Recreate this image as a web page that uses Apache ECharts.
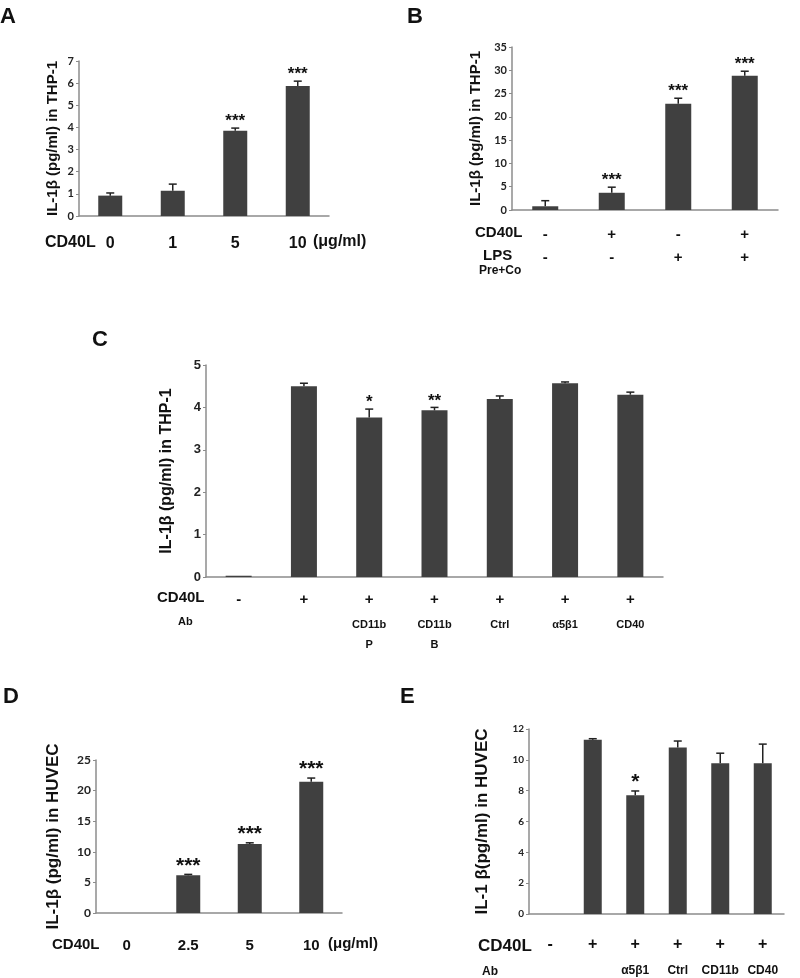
<!DOCTYPE html>
<html><head><meta charset="utf-8">
<script src="https://cdn.jsdelivr.net/npm/echarts@6/dist/echarts.min.js"></script>
<style>html,body{margin:0;padding:0;background:#fff}#c{width:800px;height:978px}</style>
</head><body><div id="c"></div>
<script>
// ---- Panel A ----
const catsA = ['0', '1', '5', '10'];
const valsA = [0.92, 1.14, 3.85, 5.87];
const errA = [0.12, 0.3, 0.12, 0.22];
const starsA = ['', '', '***', '***'];
// ---- Panel B ----
const rowCD40LB = ['-', '+', '-', '+'];
const rowLPSB = ['-', '-', '+', '+'];
const valsB = [0.8, 3.7, 22.8, 28.8];
const errB = [1.2, 1.2, 1.2, 1.0];
const starsB = ['', '***', '***', '***'];
// ---- Panel C ----
const rowCD40LC = ['-', '+', '+', '+', '+', '+', '+'];
const rowAbC = ['', '', 'CD11b\nP', 'CD11b\nB', 'Ctrl', 'α5β1', 'CD40'];
const valsC = [0.03, 4.5, 3.76, 3.93, 4.2, 4.57, 4.3];
const errC = [0, 0.07, 0.2, 0.07, 0.07, 0.03, 0.06];
const starsC = ['', '', '*', '**', '', '', ''];
// ---- Panel D ----
const catsD = ['0', '2.5', '5', '10'];
const valsD = [0, 6.16, 11.27, 21.45];
const errD = [0, 0.15, 0.2, 0.6];
const starsD = ['', '***', '***', '***'];
// ---- Panel E ----
const rowCD40LE = ['-', '+', '+', '+', '+', '+'];
const rowAbE = ['', '', 'α5β1', 'Ctrl', 'CD11b', 'CD40'];
const valsE = [0, 11.3, 7.7, 10.8, 9.78, 9.78];
const errE = [0, 0.07, 0.28, 0.42, 0.65, 1.24];
const starsE = ['', '', '*', '', '', ''];

const AX = '#8c8c8c', BAR = '#404040', F = '"Liberation Sans", Arial, sans-serif', FC = 'Lato, "Liberation Sans", sans-serif';

const panels = [
  {grid:{left:79, top:61, width:250, height:155}, rows:[{d:catsA, m:19, fs:16}], vals:valsA, err:errA, stars:starsA,
   y:{max:7, interval:1, fs:11, ff:FC}, name:'IL-1β (pg/ml) in THP-1', nameFs:15, gap:19, bw:24, sfs:17},
  {grid:{left:512, top:47, width:266, height:163}, rows:[{d:rowCD40LB, m:16, fs:15},{d:rowLPSB, m:39, fs:15}], vals:valsB, err:errB, stars:starsB,
   y:{max:35, interval:5, fs:11, ff:FC}, name:'IL-1β (pg/ml) in THP-1', nameFs:15, gap:29, bw:26, sfs:17},
  {grid:{left:206, top:365, width:457, height:212}, rows:[{d:rowCD40LC, m:14, fs:15},{d:rowAbC, m:38, fs:11, lh:20}], vals:valsC, err:errC, stars:starsC,
   y:{max:5, interval:1, fs:13, ff:F}, name:'IL-1β (pg/ml) in THP-1', nameFs:16, gap:31, bw:26, sfs:17},
  {grid:{left:96, top:760, width:246, height:153}, rows:[{d:catsD, m:24, fs:15}], vals:valsD, err:errD, stars:starsD,
   y:{max:25, interval:5, fs:12, ff:FC}, name:'IL-1β (pg/ml) in HUVEC', nameFs:17, gap:34, bw:24, sfs:21},
  {grid:{left:529, top:729, width:255, height:188}, rows:[{d:rowCD40LE, m:22, fs:16},{d:rowAbE, m:50, fs:12}], vals:valsE, err:errE, stars:starsE,
   y:{max:12, interval:2, fs:10, ff:FC}, name:'IL-1 β(pg/ml) in HUVEC', nameFs:17, gap:38, bw:18, sfs:21}
];

const grid = [], xAxis = [], yAxis = [], series = [];
panels.forEach((p, i) => {
  grid.push(p.grid);
  const firstX = xAxis.length;
  p.rows.forEach((r, k) => {
    xAxis.push({type:'category', gridIndex:i, data:r.d, position:'bottom',
      axisLine:{show:k===0, lineStyle:{color:AX, width:1.5}}, axisTick:{show:false},
      axisLabel:{interval:0, margin:r.m, color:'#111', fontWeight:'bold', fontSize:r.fs, fontFamily:F, lineHeight:r.lh || r.fs+2}});
  });
  yAxis.push({type:'value', gridIndex:i, min:0, max:p.y.max, interval:p.y.interval,
    splitLine:{show:false},
    axisLine:{show:true, lineStyle:{color:AX, width:1.5}},
    axisTick:{show:true, length:3, lineStyle:{color:AX}},
    axisLabel:{color:'#222', fontWeight:'bold', fontSize:p.y.fs, fontFamily:p.y.ff, margin:5},
    name:p.name, nameLocation:'middle', nameRotate:90, nameGap:p.gap,
    nameTextStyle:{color:'#111', fontWeight:'bold', fontSize:p.nameFs, fontFamily:F}});
  series.push({type:'bar', xAxisIndex:firstX, yAxisIndex:i, data:p.vals, barWidth:p.bw,
    itemStyle:{color:BAR}, silent:true});
  const stars = p.stars;
  series.push({type:'custom', xAxisIndex:firstX, yAxisIndex:i, z:5,
    data:p.vals.map((v, j) => [j, v, p.err[j]]),
    renderItem:(params, api) => {
      const x = api.value(0), v = api.value(1), e = api.value(2);
      const base = api.coord([x, v]), top = api.coord([x, v + e]);
      const children = [];
      if (e > 0) {
        children.push({type:'line', shape:{x1:base[0], y1:base[1], x2:top[0], y2:top[1]}, style:{stroke:'#222', lineWidth:1.5}});
        children.push({type:'line', shape:{x1:top[0]-4, y1:top[1], x2:top[0]+4, y2:top[1]}, style:{stroke:'#222', lineWidth:1.5}});
      }
      const s = stars[params.dataIndex];
      if (s) children.push({type:'text', x:top[0], y:top[1] + 2,
        style:{text:s, fill:'#111', font:'bold ' + p.sfs + 'px ' + F, textAlign:'center', textVerticalAlign:'bottom'}});
      return {type:'group', children};
    }});
});

function txt(x, y, t, fs) {
  return {type:'text', left:x, top:y, style:{text:t, fill:'#111', font:'bold ' + fs + 'px ' + F}};
}
const graphic = [
  txt(0, 6, 'A', 22), txt(407, 6, 'B', 22), txt(92, 329, 'C', 22), txt(3, 686, 'D', 22), txt(400, 686, 'E', 22),
  txt(45, 235, 'CD40L', 16), txt(313, 234, '(μg/ml)', 16),
  txt(475, 225, 'CD40L', 15), txt(483, 248, 'LPS', 15), txt(479, 265, 'Pre+Co', 12),
  txt(157, 590, 'CD40L', 15), txt(178, 616, 'Ab', 11),
  txt(52, 937, 'CD40L', 15), txt(328, 936, '(μg/ml)', 15),
  txt(478, 938, 'CD40L', 17), txt(482, 966, 'Ab', 12)
];

const chart = echarts.init(document.getElementById('c'), null, {renderer:'canvas'});
chart.setOption({animation:false, backgroundColor:'#fff', grid, xAxis, yAxis, series, graphic});
</script></body></html>
